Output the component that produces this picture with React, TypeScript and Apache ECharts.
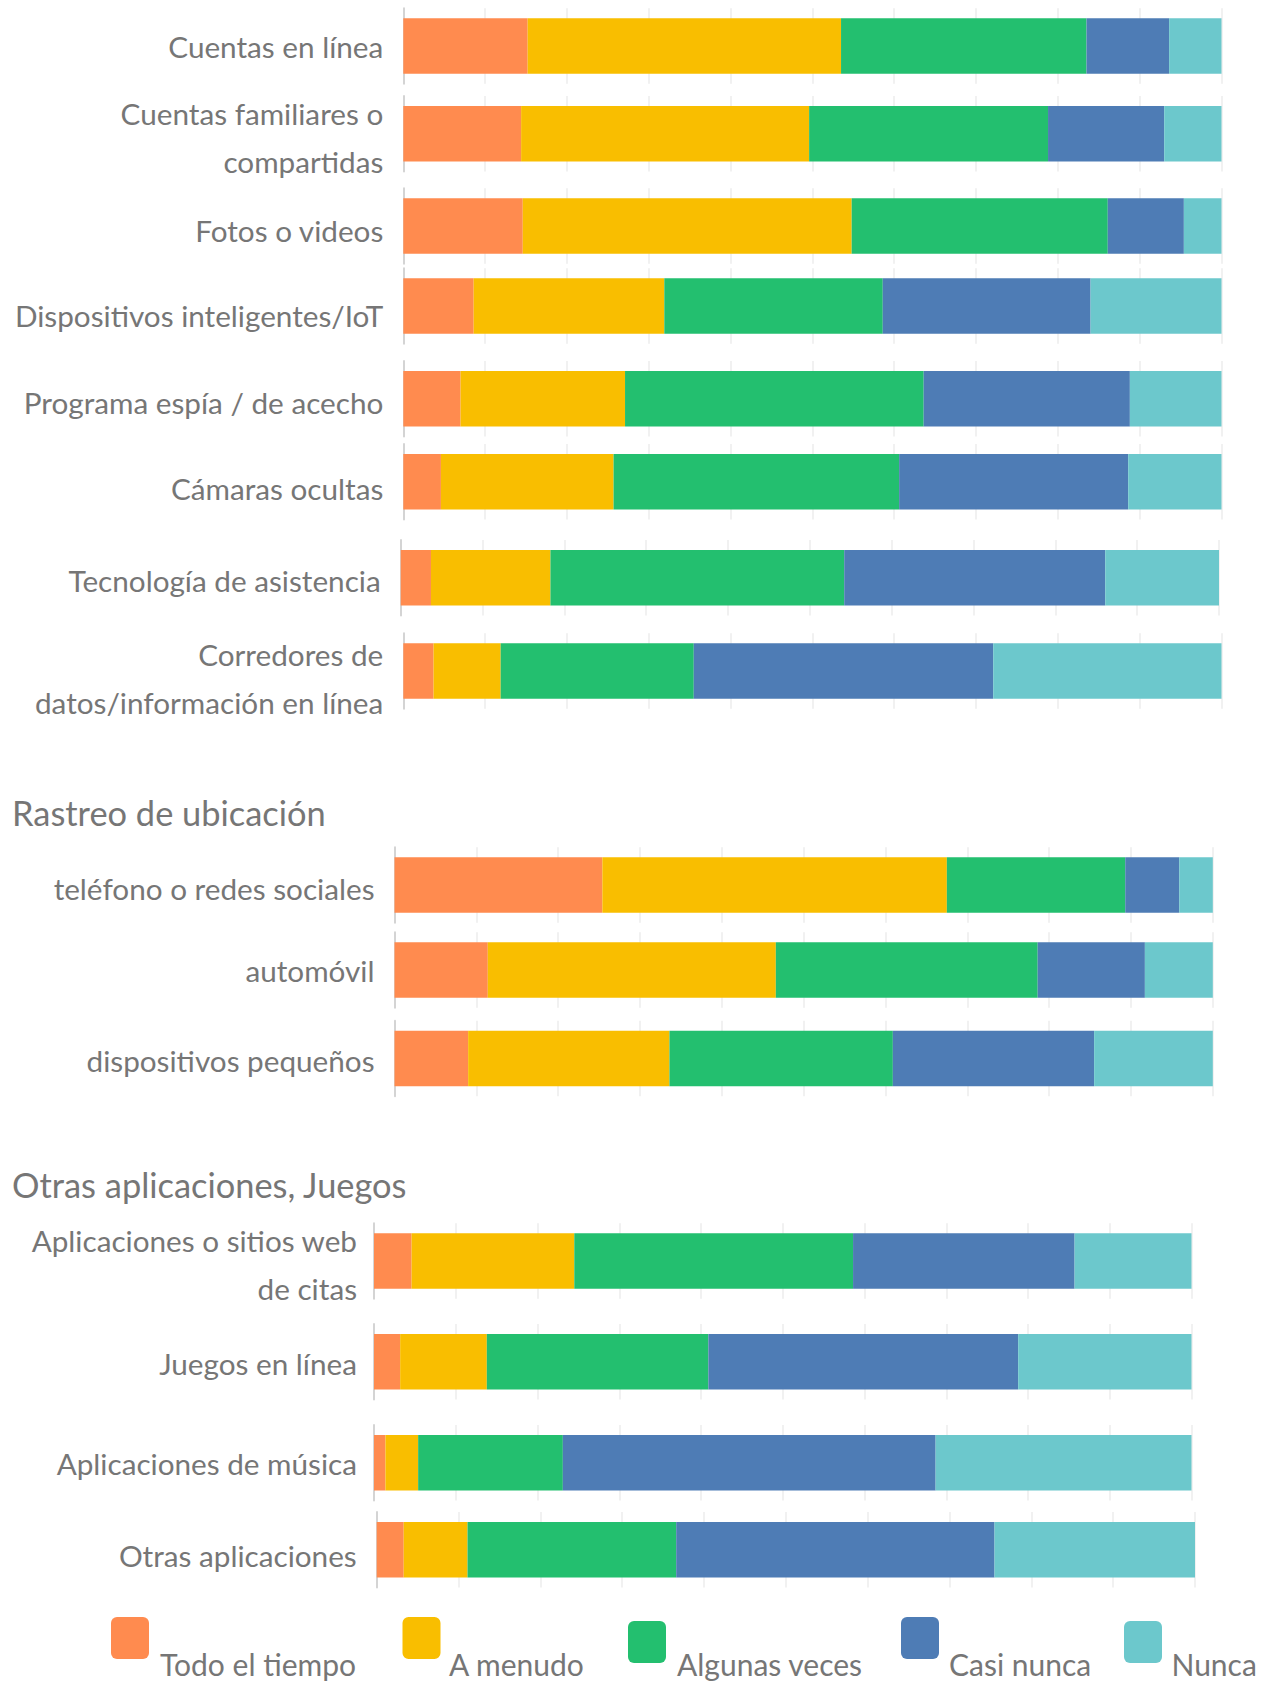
import React, { useEffect, useRef } from "react";
import * as echarts from "echarts";

// ---------- data ----------
const seriesNames = ["Todo el tiempo", "A menudo", "Algunas veces", "Casi nunca", "Nunca"];
const seriesColors = ["#FF8B4F", "#F9BE00", "#23BF6F", "#4E7CB5", "#6CC8CC"];

const categories = [
  "Cuentas en línea",
  "Cuentas familiares o\ncompartidas",
  "Fotos o videos",
  "Dispositivos inteligentes/IoT",
  "Programa espía / de acecho",
  "Cámaras ocultas",
  "Tecnología de asistencia",
  "Corredores de\ndatos/información en línea",
  "teléfono o redes sociales",
  "automóvil",
  "dispositivos pequeños",
  "Aplicaciones o sitios web\nde citas",
  "Juegos en línea",
  "Aplicaciones de música",
  "Otras aplicaciones",
];

const sectionTitles = ["Rastreo de ubicación", "Otras aplicaciones, Juegos"];

const todoElTiempo = [15.2, 14.4, 14.6, 8.6, 7.0, 4.6, 3.7, 3.7, 25.4, 11.4, 9.0, 4.6, 3.2, 1.4, 3.3];
const aMenudo = [38.3, 35.2, 40.2, 23.3, 20.1, 21.1, 14.6, 8.2, 42.1, 35.2, 24.6, 19.9, 10.6, 4.0, 7.8];
const algunasVeces = [30.0, 29.2, 31.3, 26.7, 36.5, 34.9, 35.9, 23.6, 21.8, 32.0, 27.3, 34.1, 27.1, 17.7, 25.5];
const casiNunca = [10.1, 14.2, 9.3, 25.4, 25.2, 28.0, 31.9, 36.6, 6.6, 13.1, 24.6, 27.1, 37.9, 45.6, 38.9];
const nunca = [6.4, 7.0, 4.6, 16.0, 11.2, 11.4, 13.9, 27.9, 4.1, 8.3, 14.5, 14.3, 21.2, 31.3, 24.5];

const axisMin = 0;
const axisMax = 100;
const axisInterval = 10;

// ---------- layout (pixels) ----------
const barLayout = [
  { x0: 403.3, x1: 1221.5, top: 18.3, dy: 0, m: 20 },
  { x0: 403.3, x1: 1221.5, top: 106, dy: 3.5, m: 20 },
  { x0: 403.3, x1: 1221.5, top: 198.3, dy: 4, m: 20 },
  { x0: 403.3, x1: 1221.5, top: 278.3, dy: 9, m: 20 },
  { x0: 403.3, x1: 1221.5, top: 371, dy: 3.5, m: 20 },
  { x0: 403.3, x1: 1221.5, top: 454, dy: 6.5, m: 20 },
  { x0: 400.7, x1: 1219, top: 550, dy: 2.5, m: 20 },
  { x0: 403.3, x1: 1221.5, top: 643.3, dy: 7.5, m: 20 },
  { x0: 394.5, x1: 1212.8, top: 857.3, dy: 3.5, m: 20 },
  { x0: 394.5, x1: 1212.8, top: 942.3, dy: 0, m: 20 },
  { x0: 394.5, x1: 1212.8, top: 1030.7, dy: 2.5, m: 20 },
  { x0: 374, x1: 1191.5, top: 1233.3, dy: 3.2, m: 17 },
  { x0: 374, x1: 1191.5, top: 1334, dy: 2, m: 17 },
  { x0: 374, x1: 1191.5, top: 1435, dy: 0.5, m: 17 },
  { x0: 376.7, x1: 1195, top: 1522, dy: 5.5, m: 20 },
];
const barH = 55.5;
const gridPad = 10;
const titlePos = [
  { x: 12, y: 812 },
  { x: 12, y: 1184 },
];
const legendPos = [
  { bx: 111, by: 1617, tx: 160 },
  { bx: 402.5, by: 1617, tx: 449 },
  { bx: 628, by: 1621, tx: 677 },
  { bx: 901, by: 1617, tx: 949 },
  { bx: 1124, by: 1621, tx: 1171.5 },
];

const FONT = "Lato";
const TEXT_COLOR = "#767676";
const LABEL_SIZE = 29.7;
const TITLE_SIZE = 34.4;
const LEGEND_SIZE = 30;

export default function App() {
  const ref = useRef<HTMLDivElement>(null);

  useEffect(() => {
    if (!ref.current) return;
    const chart = echarts.init(ref.current, undefined, { renderer: "svg" });
    const values = [todoElTiempo, aMenudo, algunasVeces, casiNunca, nunca];

    const grid = barLayout.map((b) => ({
      left: b.x0,
      top: b.top - gridPad,
      width: b.x1 - b.x0,
      height: barH + gridPad * 2,
      containLabel: false,
    }));

    const xAxis = barLayout.map((_, i) => ({
      type: "value",
      gridIndex: i,
      min: axisMin,
      max: axisMax,
      interval: axisInterval,
      axisLabel: { show: false },
      axisLine: { show: false },
      axisTick: { show: false },
      splitLine: { show: true, lineStyle: { color: "#ECECEC", width: 1.5 } },
    }));

    const yAxis = categories.map((c, i) => {
      const shift = barLayout[i].dy * 2;
      return {
        type: "category",
        gridIndex: i,
        data: [c],
        axisTick: { show: false },
        axisLine: { show: true, lineStyle: { color: "#D4D4D4", width: 2 } },
        axisLabel: {
          margin: barLayout[i].m,
          formatter: (v: string) =>
            (shift > 0 ? "{s| }\n" : "") +
            v.split("\n").map((line) => "{a|" + line + "}").join("\n"),
          rich: {
            s: { fontSize: 1, lineHeight: shift, fontFamily: FONT },
            a: {
              fontFamily: FONT,
              fontSize: LABEL_SIZE,
              color: TEXT_COLOR,
              lineHeight: 48,
              align: "right",
            },
          },
        },
      };
    });

    const series: any[] = [];
    barLayout.forEach((_, i) => {
      values.forEach((vals, k) => {
        series.push({
          type: "bar",
          name: seriesNames[k],
          xAxisIndex: i,
          yAxisIndex: i,
          stack: "bar" + i,
          barWidth: barH,
          data: [vals[i]],
          itemStyle: { color: seriesColors[k] },
          silent: true,
        });
      });
    });

    const graphic: any[] = [];
    sectionTitles.forEach((t, i) => {
      graphic.push({
        type: "text",
        x: titlePos[i].x,
        y: titlePos[i].y,
        style: {
          text: t,
          fontFamily: FONT,
          fontSize: TITLE_SIZE,
          fill: TEXT_COLOR,
          verticalAlign: "middle",
          align: "left",
        },
      });
    });
    seriesNames.forEach((n, k) => {
      const p = legendPos[k];
      graphic.push({
        type: "rect",
        shape: { x: p.bx, y: p.by, width: 38, height: 42, r: 6 },
        style: { fill: seriesColors[k] },
      });
      graphic.push({
        type: "text",
        x: p.tx,
        y: 1664,
        style: {
          text: n,
          fontFamily: FONT,
          fontSize: LEGEND_SIZE,
          fill: TEXT_COLOR,
          verticalAlign: "middle",
          align: "left",
        },
      });
    });

    chart.setOption({
      animation: false,
      backgroundColor: "#ffffff",
      grid,
      xAxis,
      yAxis,
      series,
      graphic,
    });

    return () => chart.dispose();
  }, []);

  return (
    <div
      ref={ref}
      style={{ position: "absolute", left: 0, top: 0, width: 1267, height: 1682 }}
    />
  );
}
